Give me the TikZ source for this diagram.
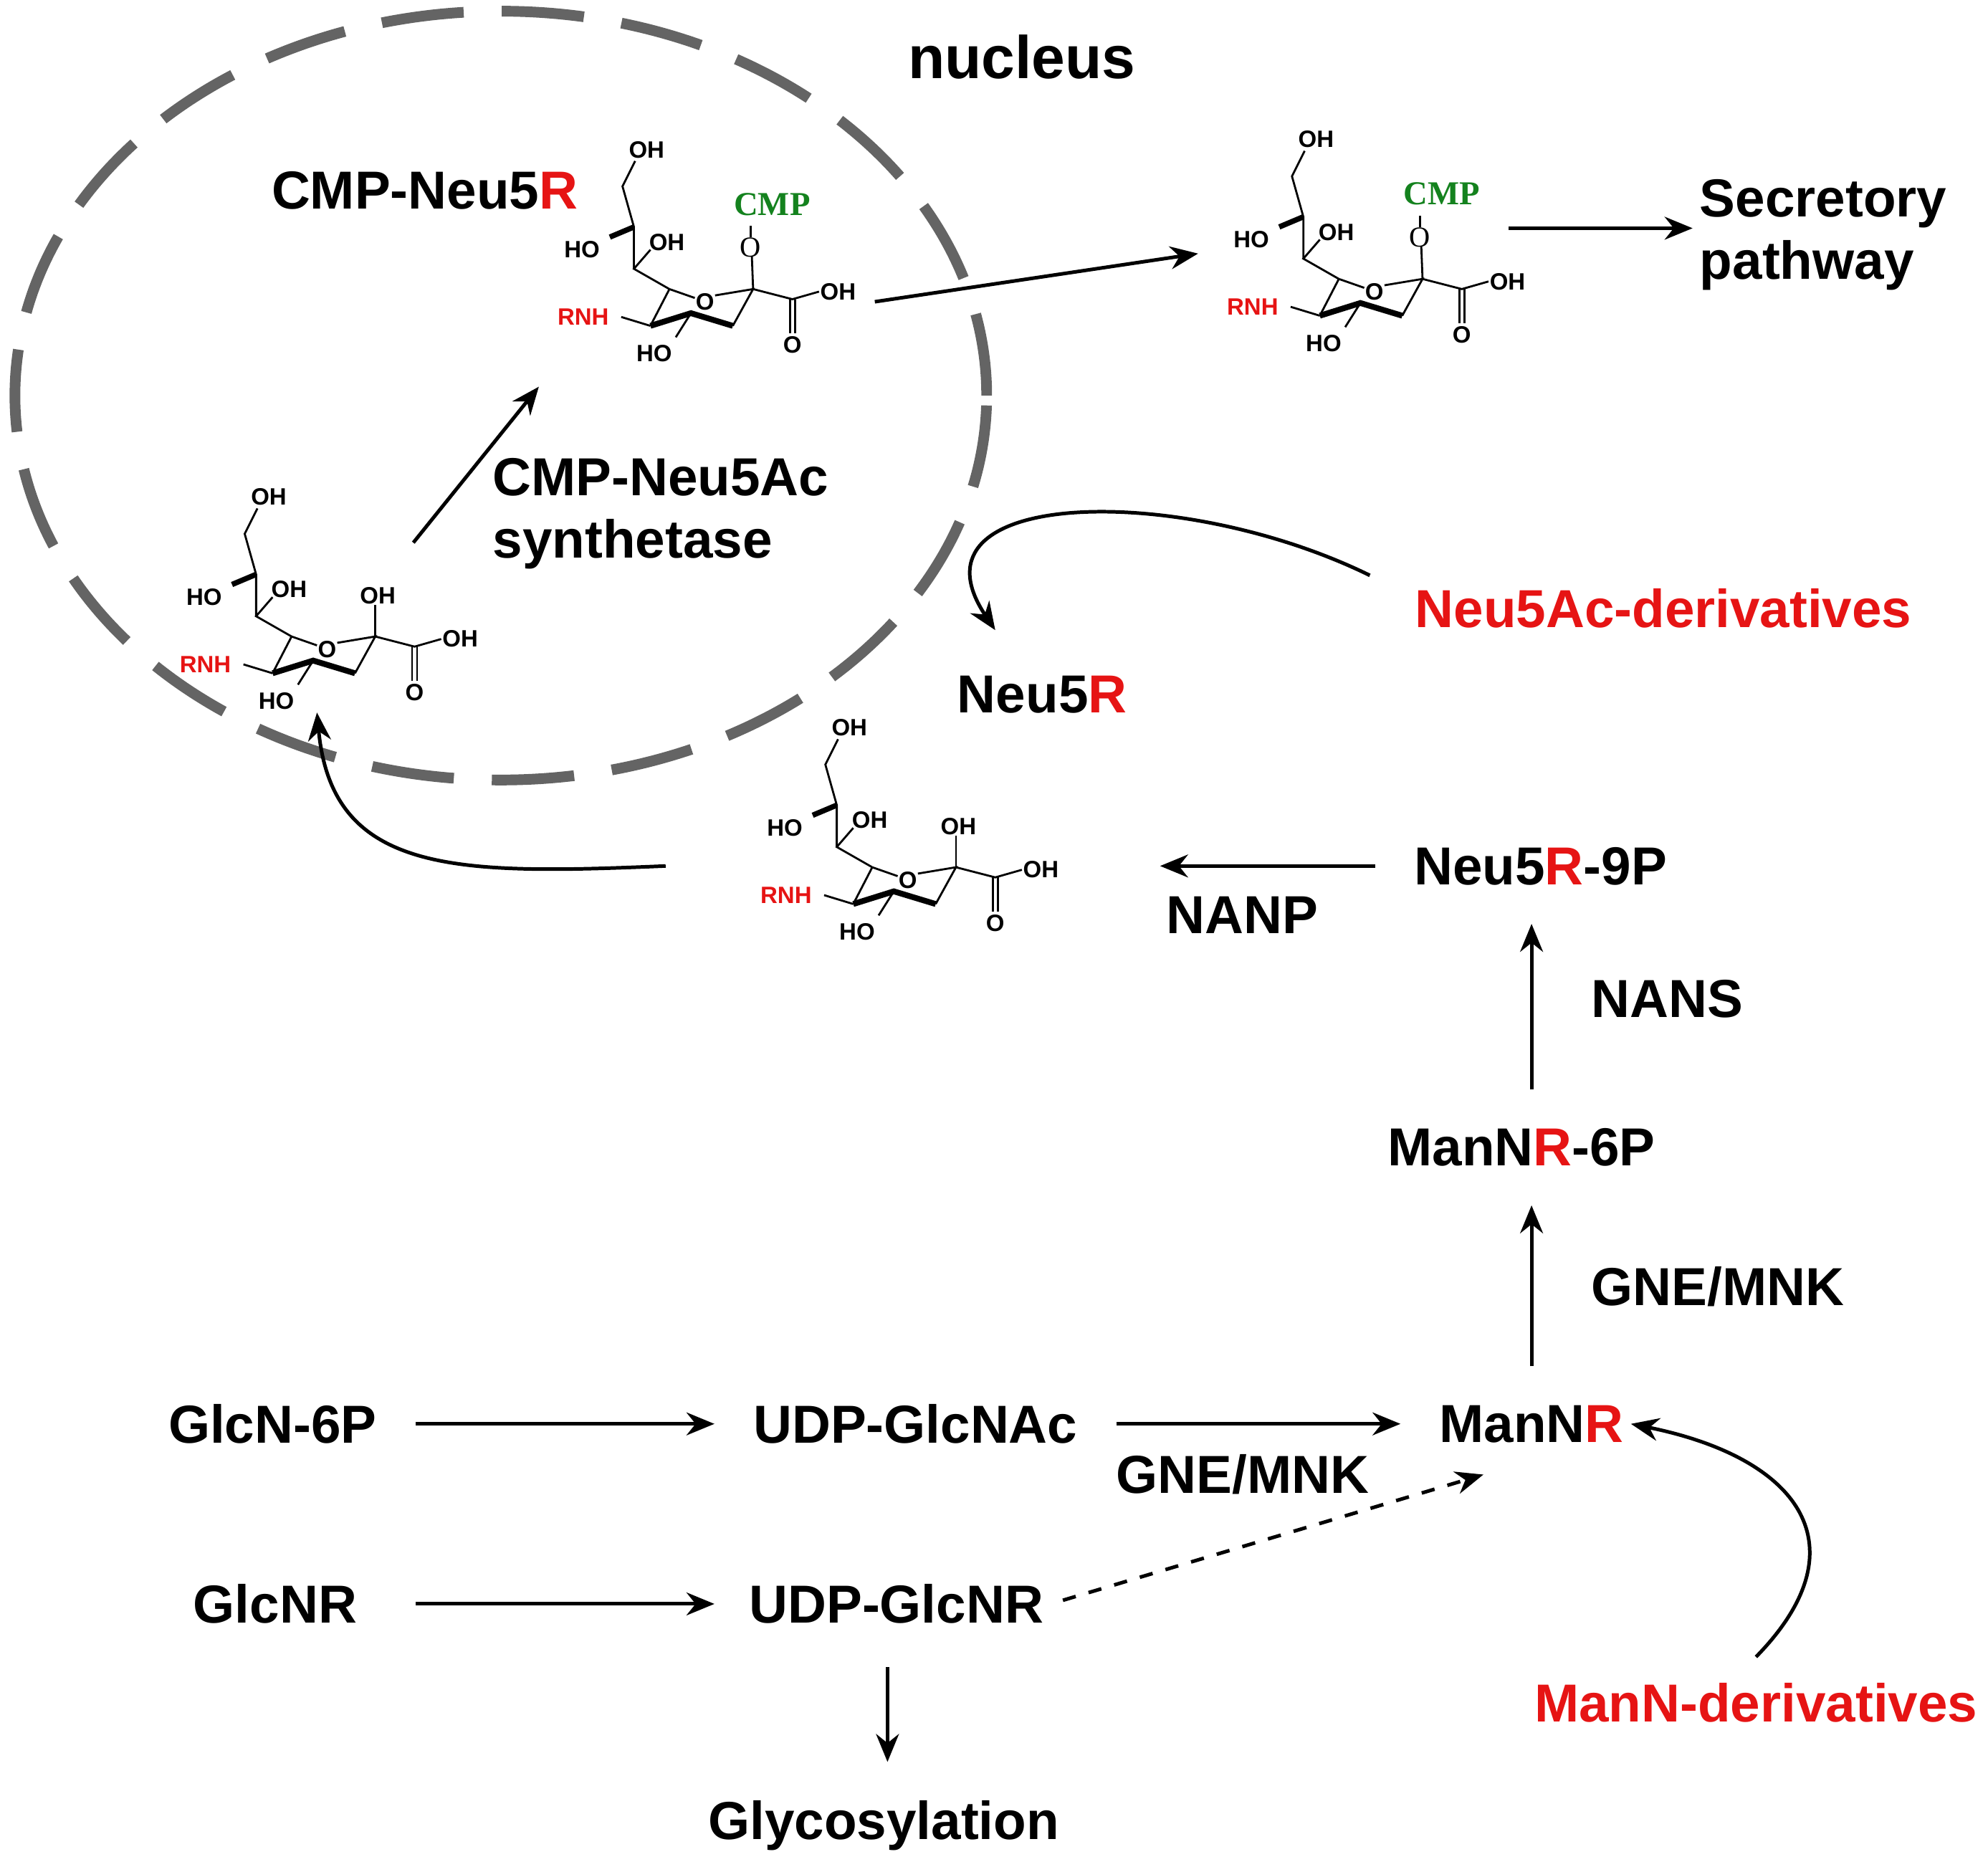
\documentclass[tikz,border=0pt]{standalone}
\usepackage{fontspec}
\setmainfont{Liberation Sans}
\newfontfamily\serifmol{Liberation Serif}
\usepackage{xcolor}
\usetikzlibrary{arrows.meta}
\definecolor{rred}{RGB}{230,20,20}
\definecolor{cmpgreen}{RGB}{20,130,30}
\definecolor{nucgray}{RGB}{100,100,100}
\newcommand{\R}{\textcolor{rred}{R}}

% sialic acid drawing, ring oxygen at (#1); #2 = 1 for the CMP-ester
\newcommand{\sialic}[2]{%
  \begin{scope}[shift={(#1)},line width=0.45pt]
    \node[atom] at (0,0) {O};
    \draw (-28,-10) -- (-8,-3);
    \draw (8,-5) -- (38,-10) -- (22,19);
    \draw[line width=1.3pt] (22,19) -- (-11,9) -- (-43,19);
    \draw (-43,19) -- (-28,-10);
    \draw (-11,9) -- (-23,28);
    \node[atom] at (-40,41) {HO};
    \draw (-43,19) -- (-66,12);
    \node[atom,text=rred] at (-96,12) {RNH};
    \draw (-28,-10) -- (-56,-26) -- (-43,-41);
    \node[atom] at (-30,-47) {OH};
    \draw (-56,-26) -- (-56,-59) -- (-65,-91) -- (-55,-111);
    \draw[line width=1.2pt] (-56,-59) -- (-75,-51);
    \node[atom] at (-97,-41) {HO};
    \node[atom] at (-46,-120) {OH};
    \draw (38,-10) -- (69,-2) -- (90,-8);
    \node[atom] at (105,-8) {OH};
    \draw (67,-2) -- (67,25) (71,-2) -- (71,25);
    \node[atom] at (69,34) {O};
    \ifnum#2=1
      \draw (38,-10) -- (37,-36);
      \node[atom,font=\serifmol\fontsize{6.5}{7}\selectfont] at (36,-43) {O};
      \draw (36,-51) -- (36,-60);
      \node[atom,text=cmpgreen,font=\serifmol\bfseries\fontsize{7.5}{8}\selectfont] at (53,-77) {CMP};
    \else
      \draw (38,-10) -- (38,-35);
      \node[atom] at (40,-42) {OH};
    \fi
  \end{scope}}

\begin{document}
\begin{tikzpicture}[x=0.01cm,y=-0.01cm,
    lbl/.style={font=\bfseries\fontsize{12}{14}\selectfont,inner sep=0.5mm},
    atom/.style={font=\bfseries\fontsize{5.3}{6}\selectfont,inner sep=0pt},
    arr/.style={-{Stealth[length=2.2mm,width=1.8mm]},line width=0.8pt,shorten <=2.5mm,shorten >=2.5mm},
    carr/.style={-{Stealth[length=2.2mm,width=1.8mm]},line width=0.8pt},
    nucleus/.style={nucgray,line width=2.4pt,dash pattern=on 6.5mm off 3mm}]
  \useasboundingbox (0,0) rectangle (1568,1476);

  % nucleus
  \draw[nucleus] (395,312) ellipse [x radius=3.83cm, y radius=3.03cm];
  \node[lbl,font=\bfseries\fontsize{13.5}{15}\selectfont] (nuc) at (806,45) {nucleus};

  % molecules
  \sialic{258,512}{0}
  \sialic{556,238}{1}
  \sialic{1084,230}{1}
  \sialic{716,694}{0}
  \coordinate (m1out) at (326,428);
  \coordinate (m2in) at (425,305);
  \coordinate (m2out) at (690,238);
  \coordinate (m3in) at (945,200);
  \coordinate (m3out) at (1190,180);
  \coordinate (m4in) at (890,683);
  \coordinate (m4out) at (525,683);
  \coordinate (m1in) at (250,562);
  \coordinate (neuin) at (785,497);

  % labels
  \node[lbl] (cmpneu) at (335,150) {CMP-Neu5\R};
  \node[lbl,align=left,anchor=west] (synth) at (383,405) {CMP-Neu5Ac\\synthetase};
  \node[lbl,align=left,anchor=west] (secr) at (1335,185) {Secretory\\pathway};
  \node[lbl,text=rred] (neuder) at (1312,480) {Neu5Ac-derivatives};
  \node[lbl] (neu) at (822,548) {Neu5\R};
  \node[lbl] (neu9p) at (1215,683) {Neu5\R-9P};
  \node[lbl] (nanp) at (980,722) {NANP};
  \node[lbl] (nans) at (1315,788) {NANS};
  \node[lbl] (man6p) at (1200,905) {ManN\R-6P};
  \node[lbl] (gne1) at (1355,1015) {GNE/MNK};
  \node[lbl] (glcn6p) at (215,1123) {GlcN-6P};
  \node[lbl] (udpnac) at (722,1123) {UDP-GlcNAc};
  \node[lbl] (mannr) at (1208,1123) {ManN\R};
  \node[lbl] (gne2) at (980,1163) {GNE/MNK};
  \node[lbl] (glcnr) at (217,1265) {GlcNR};
  \node[lbl] (udpnr) at (707,1265) {UDP-GlcNR};
  \node[lbl,text=rred] (mander) at (1385,1343) {ManN-derivatives};
  \node[lbl] (glyco) at (697,1440) {Glycosylation};
  \coordinate (dashend) at (1170,1163);
  \coordinate (glyin) at (700,1290);

  % arrows
  \draw[carr] (m1out) -- (m2in);
  \draw[carr] (m2out) -- (m3in);
  \draw[carr] (m3out) -- (m3out -| secr.west);
  \draw[carr] (neuder.north west) ++(-30,-5) coordinate (nd) .. controls (930,380) and (710,385) .. (neuin);
  \draw[arr] (neu9p) -- (m4in);
  \draw[carr] (m4out) .. controls (360,690) and (262,690) .. (m1in);
  \draw[arr] (man6p.north -| mannr) -- (neu9p.south -| mannr);
  \draw[arr] (mannr) -- (mannr |- man6p.south);
  \draw[arr] (glcn6p) -- (udpnac);
  \draw[arr] (udpnac) -- (mannr);
  \draw[arr] (glcn6p.east |- glcnr) -- (glcnr -| udpnac.west);
  \draw[carr,dashed,shorten <=1mm] (udpnr.east) -- (dashend);
  \draw[arr] (glyin) -- (glyin |- glyco.north);
  \draw[carr] (mander.north) ++(0,-15) .. controls (1470,1220) and (1420,1150) .. (mannr.east);
\end{tikzpicture}
\end{document}
